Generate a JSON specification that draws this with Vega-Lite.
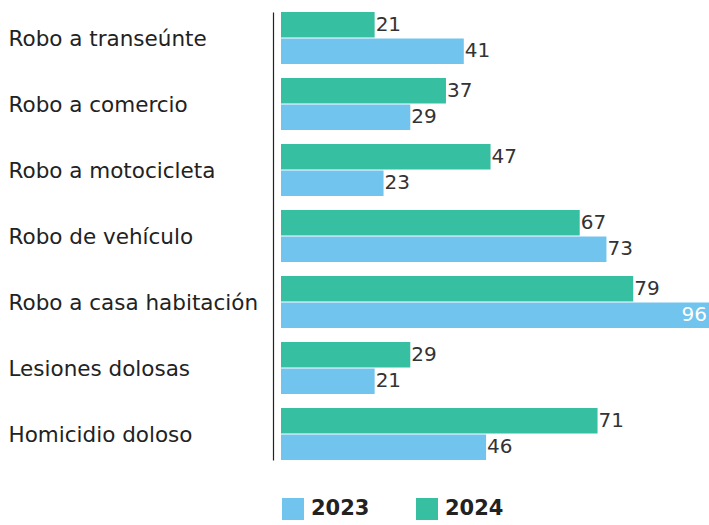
{
  "$schema": "https://vega.github.io/schema/vega-lite/v6.json",
  "autosize": "none",
  "width": 428,
  "height": 448,
  "padding": {"left": 281, "top": 12, "right": 0, "bottom": 65},
  "background": "white",
  "config": {
    "font": "DejaVu Sans",
    "view": {"stroke": null}
  },
  "data": {
    "values": [
      {"delito": "Robo a transeúnte", "anio": "2024", "valor": 21},
      {"delito": "Robo a transeúnte", "anio": "2023", "valor": 41},
      {"delito": "Robo a comercio", "anio": "2024", "valor": 37},
      {"delito": "Robo a comercio", "anio": "2023", "valor": 29},
      {"delito": "Robo a motocicleta", "anio": "2024", "valor": 47},
      {"delito": "Robo a motocicleta", "anio": "2023", "valor": 23},
      {"delito": "Robo de vehículo", "anio": "2024", "valor": 67},
      {"delito": "Robo de vehículo", "anio": "2023", "valor": 73},
      {"delito": "Robo a casa habitación", "anio": "2024", "valor": 79},
      {"delito": "Robo a casa habitación", "anio": "2023", "valor": 96},
      {"delito": "Lesiones dolosas", "anio": "2024", "valor": 29},
      {"delito": "Lesiones dolosas", "anio": "2023", "valor": 21},
      {"delito": "Homicidio doloso", "anio": "2024", "valor": 71},
      {"delito": "Homicidio doloso", "anio": "2023", "valor": 46}
    ]
  },
  "encoding": {
    "y": {
      "field": "delito",
      "type": "nominal",
      "sort": null,
      "scale": {"paddingInner": 0.212, "paddingOuter": 0},
      "axis": {
        "title": null,
        "ticks": false,
        "domain": true,
        "domainColor": "#222222",
        "domainWidth": 1.2,
        "offset": 8,
        "labelAlign": "left",
        "labelPadding": 265,
        "labelFontSize": 21.5,
        "labelOffset": 2,
        "labelColor": "#222222",
        "labelLimit": 300
      }
    },
    "x": {
      "field": "valor",
      "type": "quantitative",
      "scale": {"domain": [0, 96], "nice": false},
      "axis": null
    },
    "yOffset": {
      "field": "anio",
      "type": "nominal",
      "sort": ["2024", "2023"],
      "scale": {"paddingInner": 0.04, "paddingOuter": 0}
    }
  },
  "layer": [
    {
      "mark": {"type": "bar", "cornerRadius": 0},
      "encoding": {
        "color": {
          "field": "anio",
          "type": "nominal",
          "scale": {"domain": ["2023", "2024"], "range": ["#70C4EE", "#36BFA1"]},
          "legend": {
            "title": null,
            "orient": "none",
            "legendX": 1,
            "legendY": 486,
            "direction": "horizontal",
            "symbolType": "square",
            "symbolSize": 484,
            "symbolStrokeWidth": 0,
            "symbolOpacity": 1,
            "labelFontSize": 21,
            "labelFontWeight": "bold",
            "labelColor": "#222222",
            "labelOffset": 7,
            "columnPadding": 46
          }
        }
      }
    },
    {
      "transform": [{"filter": "datum.valor < 90"}],
      "mark": {"type": "text", "align": "left", "baseline": "middle", "dx": 1, "fontSize": 20, "color": "#333333"},
      "encoding": {"text": {"field": "valor", "type": "quantitative"}}
    },
    {
      "transform": [{"filter": "datum.valor >= 90"}],
      "mark": {"type": "text", "align": "right", "baseline": "middle", "dx": -2, "fontSize": 20, "color": "white"},
      "encoding": {"text": {"field": "valor", "type": "quantitative"}}
    }
  ]
}
